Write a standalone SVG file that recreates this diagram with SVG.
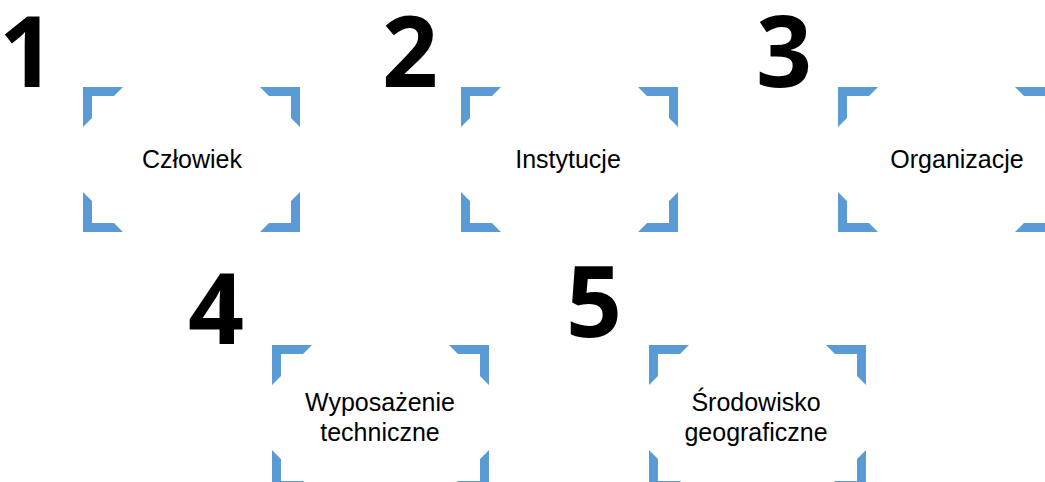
<svg xmlns="http://www.w3.org/2000/svg" xmlns:xlink="http://www.w3.org/1999/xlink" width="1045" height="482" viewBox="0 0 1045 482">
<style>
.num{font-family:"Open Sans","Liberation Sans",Arial,sans-serif;font-weight:bold;font-size:98px;fill:#000;text-anchor:middle}
.lbl{font-family:"Liberation Sans",Arial,sans-serif;font-size:25px;fill:#000;text-anchor:middle}
.br{fill:#5B9BD5}
</style>
<defs>
<path id="c" class="br" d="M0,0 H40 L31,9 H9 V31 L0,40 Z"/>
<g id="frame">
<use xlink:href="#c"/>
<use xlink:href="#c" transform="translate(217,0) scale(-1,1)"/>
<use xlink:href="#c" transform="translate(0,145) scale(1,-1)"/>
<use xlink:href="#c" transform="translate(217,145) scale(-1,-1)"/>
</g>
</defs>
<rect width="1045" height="482" fill="#fff"/>
<g id="connectors"/>
<g id="node1">
<text class="num" x="27" y="87">1</text>
<use xlink:href="#frame" transform="translate(83,87)"/>
<text class="lbl" x="192" y="168">Człowiek</text>
</g>
<g id="node2">
<text class="num" x="410" y="87">2</text>
<use xlink:href="#frame" transform="translate(461,87)"/>
<text class="lbl" x="568" y="168">Instytucje</text>
</g>
<g id="node3">
<text class="num" x="784" y="87">3</text>
<use xlink:href="#frame" transform="translate(838,87)"/>
<text class="lbl" x="957" y="168">Organizacje</text>
</g>
<g id="node4">
<text class="num" x="216" y="344">4</text>
<use xlink:href="#frame" transform="translate(272,345)"/>
<text class="lbl" x="380" y="411">Wyposażenie</text>
<text class="lbl" x="380" y="441">techniczne</text>
</g>
<g id="node5">
<text class="num" x="594" y="337">5</text>
<use xlink:href="#frame" transform="translate(649,345)"/>
<text class="lbl" x="756" y="411">Środowisko</text>
<text class="lbl" x="756" y="441">geograficzne</text>
</g>
</svg>
